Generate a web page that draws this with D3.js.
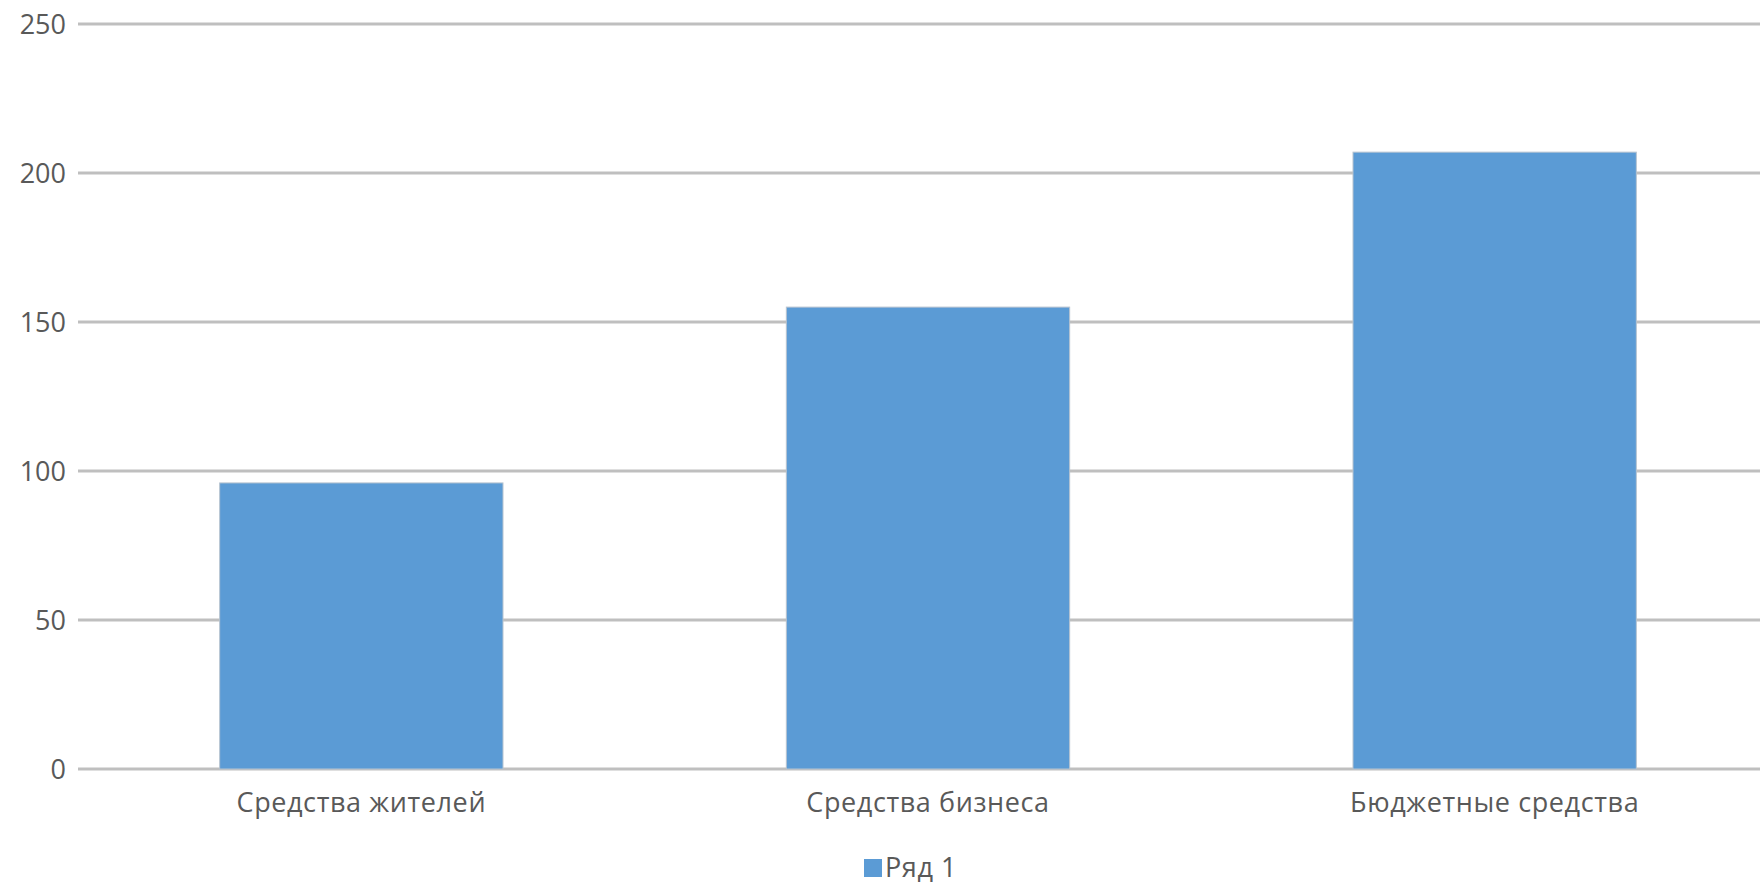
<!DOCTYPE html>
<html>
<head>
<meta charset="utf-8">
<script src="https://cdn.jsdelivr.net/npm/d3@7"></script>
<style>
  body { margin: 0; background: #fff; }
  text { font-family: 'Open Sans', 'Noto Sans', sans-serif; fill: #595959; }
</style>
</head>
<body>
<div id="chart"></div>
<script>
// Data
const categories = ['Средства жителей', 'Средства бизнеса', 'Бюджетные средства']
const values = [96, 155, 207]
const yTicks = [0, 50, 100, 150, 200, 250]
const seriesName = 'Ряд 1'

// Canvas
const width = 1760,
  height = 885,
  plotLeft = 78,
  plotRight = 1778,
  plotTop = 24,
  plotBottom = 769

const svg = d3.select('#chart')
  .append('svg')
  .attr('width', width)
  .attr('height', height)

const x = d3.scaleBand()
  .domain(categories)
  .range([plotLeft, plotRight])
  .paddingInner(0.5)
  .paddingOuter(0.25)

const y = d3.scaleLinear()
  .domain([0, 250])
  .range([plotBottom, plotTop])

// gridlines
svg.append('g')
  .selectAll('line')
  .data(yTicks)
  .enter()
  .append('line')
  .attr('x1', plotLeft)
  .attr('x2', plotRight)
  .attr('y1', d => y(d))
  .attr('y2', d => y(d))
  .attr('stroke', '#bfbfbf')
  .attr('stroke-width', 3)

// y labels
const yAxis = svg.append('g')
  .attr('transform', `translate(${plotLeft - 12}, 0)`)
  .call(d3.axisLeft(y).tickValues(yTicks).tickSize(0).tickPadding(0))
yAxis.select('.domain').remove()
yAxis.selectAll('text')
  .attr('font-size', 27)
  .attr('dy', '0.35em')

// bars
svg.append('g')
  .selectAll('rect')
  .data(values)
  .enter()
  .append('rect')
  .attr('x', (d, i) => x(categories[i]))
  .attr('y', d => y(d))
  .attr('width', x.bandwidth())
  .attr('height', d => y(0) - y(d))
  .attr('fill', '#5b9bd5')
  .attr('stroke', '#b8c4d0')
  .attr('stroke-width', 1)

// x labels
const xAxis = svg.append('g')
  .attr('transform', `translate(0, ${plotBottom + 34})`)
  .call(d3.axisBottom(x).tickSize(0).tickPadding(0))
xAxis.select('.domain').remove()
xAxis.selectAll('text')
  .attr('font-size', 27)
  .attr('letter-spacing', '0.6px')
  .attr('dy', '0.35em')

// legend
const legend = svg.append('g')
  .attr('transform', 'translate(864, 868)')
legend.append('rect')
  .attr('x', 0)
  .attr('y', -9)
  .attr('width', 18)
  .attr('height', 18)
  .attr('fill', '#5b9bd5')
legend.append('text')
  .attr('x', 21)
  .attr('dy', '0.35em')
  .attr('font-size', 27)
  .attr('letter-spacing', '0.6px')
  .text(seriesName)
</script>
</body>
</html>
